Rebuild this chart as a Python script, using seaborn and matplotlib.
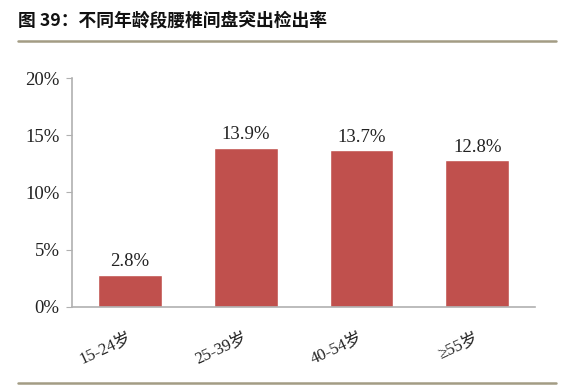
import matplotlib
matplotlib.use("Agg")
import matplotlib.pyplot as plt
import seaborn as sns
import pandas as pd
from matplotlib.lines import Line2D

categories = ["15-24岁", "25-39岁", "40-54岁", "≥55岁"]
values = [2.8, 13.9, 13.7, 12.8]
value_labels = ["2.8%", "13.9%", "13.7%", "12.8%"]
yticks = [0, 5, 10, 15, 20]
ytick_labels = ["0%", "5%", "10%", "15%", "20%"]
title = "图 39：不同年龄段腰椎间盘突出检出率"

sns.set_style("white")
serif = ["Liberation Serif", "Noto Sans CJK SC"]

df = pd.DataFrame({"cat": categories, "val": values})
fig = plt.figure(figsize=(5.68, 3.92), dpi=100)
ax = fig.add_axes([0.127, 0.217, 0.815, 0.584])
sns.barplot(data=df, x="cat", y="val", color="#C0504D", saturation=1, width=0.55, ax=ax)
ax.set_ylim(0, 20)
ax.set_xlim(-0.5, 3.5)
ax.set_yticks(yticks)
ax.set_yticklabels(ytick_labels, fontfamily=serif, fontsize=13.5, color="#222222")
ax.set_xticks(range(len(categories)))
ax.set_xticklabels(categories, rotation=25, fontfamily=serif, fontsize=12, color="#222222",
                   ha="right", va="center", rotation_mode="anchor")
ax.set_xlabel("")
ax.set_ylabel("")
for s in ["top", "right"]:
    ax.spines[s].set_visible(False)
for s in ["left", "bottom"]:
    ax.spines[s].set_color("#b0b0b0")
    ax.spines[s].set_linewidth(1.2)
ax.tick_params(axis="y", left=True, length=4, color="#b0b0b0", pad=5)
ax.tick_params(axis="x", bottom=False, pad=18)
for i, (v, t) in enumerate(zip(values, value_labels)):
    ax.text(i, v + 0.4, t, ha="center", va="bottom", fontfamily=serif, fontsize=13.5, color="#222222")

fig.text(18/568, 1 - 22/392, title, fontfamily=["Noto Sans CJK SC", "DejaVu Sans"],
         fontsize=12.8, fontweight="bold", va="center", ha="left", color="#111111")
fig.add_artist(Line2D([18/568, 556/568], [1 - 41/392, 1 - 41/392], color="#a39c84", lw=1.8, transform=fig.transFigure))
fig.add_artist(Line2D([18/568, 556/568], [1 - 383/392, 1 - 383/392], color="#a39c84", lw=1.8, transform=fig.transFigure))

fig.savefig("out.png", dpi=100)
